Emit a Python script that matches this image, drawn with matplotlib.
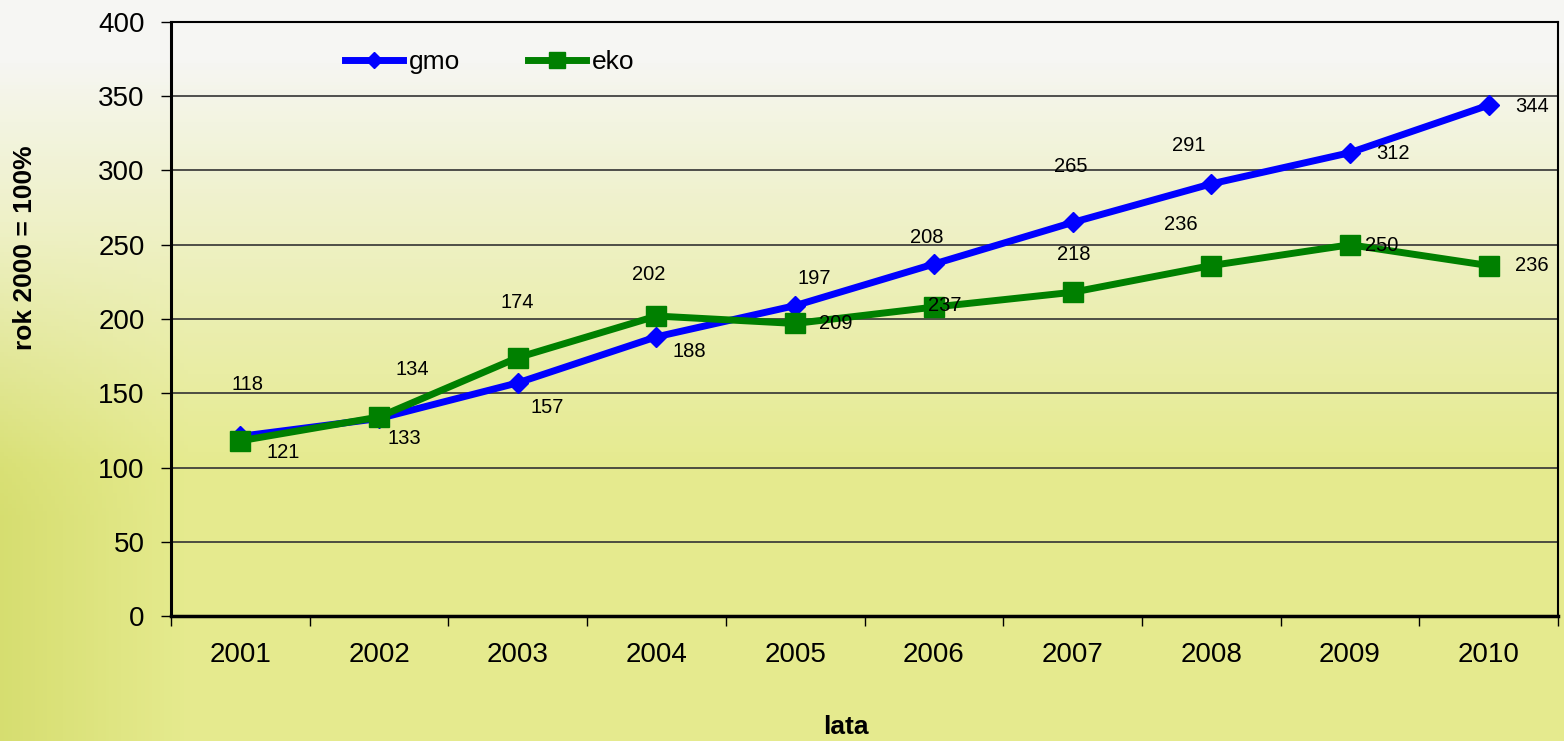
import numpy as np
import matplotlib
matplotlib.use("Agg")
import matplotlib.pyplot as plt
from matplotlib.lines import Line2D

plt.rcParams['font.family'] = ['Liberation Sans', 'DejaVu Sans']

# Dane
lata = ['2001', '2002', '2003', '2004', '2005', '2006', '2007', '2008', '2009', '2010']
gmo = [121, 133, 157, 188, 209, 237, 265, 291, 312, 344]
eko = [118, 134, 174, 202, 197, 208, 218, 236, 250, 236]

# przesuniecia etykiet (piksele) - tak jak w oryginale
gmo_off = [(43, -16), (25, -20), (29, -25), (33, -15), (41, -18),
           (11, -41), (-2, 56), (-23, 38), (43, -1), (43, -1)]
eko_off = [(7, 56), (33, 48), (-1, 55), (-8, 42), (19, 45),
           (-7, 70), (1, 38), (-30, 41), (32, -1), (43, 0)]

W, H = 1564, 741
fig = plt.figure(figsize=(W / 100, H / 100), dpi=100)

# tlo - gradient
bg = fig.add_axes([0, 0, 1, 1])
bg.set_axis_off()
yy, xx = np.mgrid[0:1:200j, 0:1:400j]
t = np.clip((yy - 0.08) / 0.55, 0, 1) ** 0.9
top = np.array([0.965, 0.965, 0.955])
bot = np.array([0.90, 0.92, 0.56])
img = top[None, None, :] * (1 - t[..., None]) + bot[None, None, :] * t[..., None]
side = np.clip(1 - xx / 0.12, 0, 1) * np.clip((yy - 0.3) / 0.4, 0, 1)
img = img - side[..., None] * np.array([0.06, 0.05, 0.12])
bg.imshow(np.clip(img, 0, 1), aspect='auto', extent=[0, 1, 0, 1], origin='upper')
bg.set_xlim(0, 1)
bg.set_ylim(0, 1)

ax = fig.add_axes([171 / W, 125 / H, 1387 / W, 594 / H])
ax.patch.set_alpha(0)

x = np.arange(1, len(lata) + 1)
ax.plot(x, gmo, color='#0000ff', lw=5, marker='D', ms=10, label='gmo', zorder=3)
ax.plot(x, eko, color='#008000', lw=5, marker='s', ms=15, label='eko', zorder=4)

for xi, v, off in zip(x, gmo, gmo_off):
    ax.annotate(str(v), (xi, v), xytext=off, textcoords='offset pixels',
                ha='center', va='center', fontsize=14.5, zorder=5)
for xi, v, off in zip(x, eko, eko_off):
    ax.annotate(str(v), (xi, v), xytext=off, textcoords='offset pixels',
                ha='center', va='center', fontsize=14.5, zorder=5)

ax.set_xlim(0.5, len(lata) + 0.5)
ax.set_ylim(0, 400)
ax.set_yticks(range(0, 401, 50))
ax.yaxis.grid(True, color='#333333', lw=1.2)
ax.set_axisbelow(True)

ax.set_xticks(x)
ax.set_xticklabels(lata)
ax.set_xticks(np.arange(0.5, len(lata) + 1), minor=True)
ax.tick_params(axis='x', which='major', length=0, pad=19, labelsize=20)
ax.tick_params(axis='x', which='minor', length=7, width=1, direction='out')
ax.tick_params(axis='y', length=7, width=1, pad=12, labelsize=20)

for s in ax.spines.values():
    s.set_linewidth(1.5)
    s.set_color('black')
ax.spines['left'].set_linewidth(2.2)
ax.spines['bottom'].set_linewidth(2.5)

fig.text(25 / W, 1 - 248 / H, 'rok 2000 = 100%', fontsize=19, fontweight='bold',
         rotation=90, ha='center', va='center')
fig.text(846 / W, 1 - 727 / H, 'lata', fontsize=19, fontweight='bold',
         ha='center', va='center')

handles = [Line2D([], [], color='#0000ff', lw=5, marker='D', ms=8),
           Line2D([], [], color='#008000', lw=5, marker='s', ms=11)]
ax.legend(handles, ['gmo', 'eko'], loc='center left',
          bbox_to_anchor=(0.1255, (616 - 62) / 594), borderaxespad=0, borderpad=0,
          ncol=2, frameon=False, fontsize=19, handlelength=2.2,
          handletextpad=0.2, columnspacing=2.6)

fig.savefig('out.png', dpi=100)
